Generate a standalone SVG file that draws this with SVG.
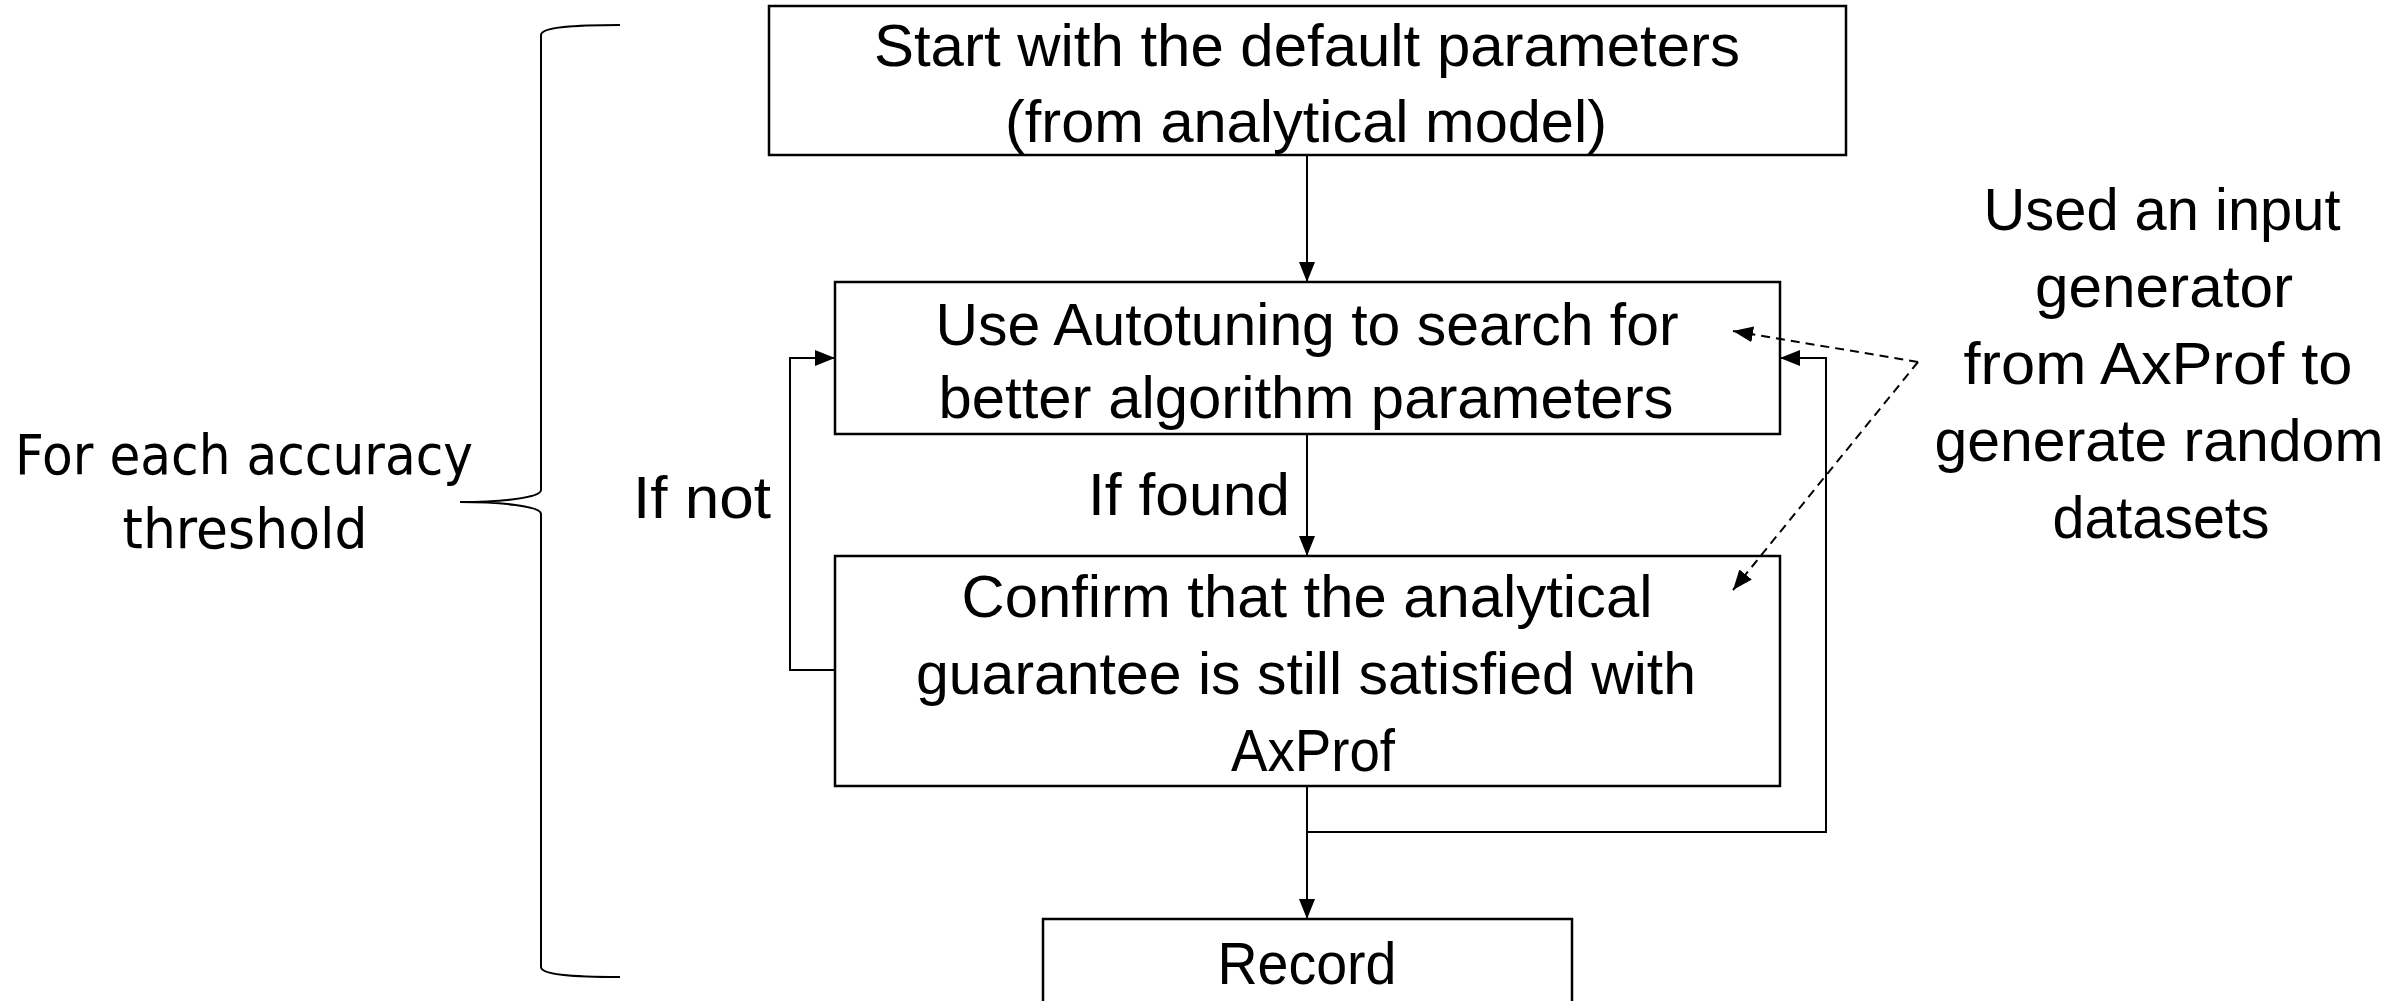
<svg xmlns="http://www.w3.org/2000/svg" width="2402" height="1001" viewBox="0 0 2402 1001">
<style>
.box{fill:#fff;stroke:#000;stroke-width:2.5}
.t{font-family:"Liberation Sans",Arial,sans-serif;font-size:60px;fill:#000;text-anchor:middle}
.lt{font-family:"DejaVu Sans",Verdana,sans-serif;font-size:56px;fill:#000;text-anchor:middle}
.ln{fill:none;stroke:#000;stroke-width:2}
.dash{fill:none;stroke:#000;stroke-width:2;stroke-dasharray:9 6}
</style>
<defs>
<marker id="ahs" viewBox="0 0 10 10" refX="10" refY="5" markerWidth="20" markerHeight="16" markerUnits="userSpaceOnUse" orient="auto" preserveAspectRatio="none">
<path d="M0,0 L10,5 L0,10 z" fill="#000"/>
</marker>
</defs>

<g id="brace">
<path class="ln" d="M620,25 C575,25 541,27 541,35 L541,490 C541,498 500,502 460,502 C500,502 541,506 541,514 L541,967 C541,975 575,977 620,977"/>
</g>

<g id="label-left">
<text class="lt" x="244" y="474" textLength="458" lengthAdjust="spacingAndGlyphs">For each accuracy</text>
<text class="lt" x="245" y="548" textLength="245" lengthAdjust="spacingAndGlyphs">threshold</text>
</g>

<g id="node-start">
<rect class="box" x="769" y="6" width="1077" height="149"/>
<text class="t" x="1307" y="66" textLength="866" lengthAdjust="spacingAndGlyphs">Start with the default parameters</text>
<text class="t" x="1306" y="142" textLength="602" lengthAdjust="spacingAndGlyphs">(from analytical model)</text>
</g>

<g id="node-autotune">
<rect class="box" x="835" y="282" width="945" height="152"/>
<text class="t" x="1307" y="345" textLength="743" lengthAdjust="spacingAndGlyphs">Use Autotuning to search for</text>
<text class="t" x="1306" y="418" textLength="735" lengthAdjust="spacingAndGlyphs">better algorithm parameters</text>
</g>

<g id="node-confirm">
<rect class="box" x="835" y="556" width="945" height="230"/>
<text class="t" x="1307" y="617" textLength="691" lengthAdjust="spacingAndGlyphs">Confirm that the analytical</text>
<text class="t" x="1306" y="694" textLength="780" lengthAdjust="spacingAndGlyphs">guarantee is still satisfied with</text>
<text class="t" x="1313" y="771" textLength="164" lengthAdjust="spacingAndGlyphs">AxProf</text>
</g>

<g id="node-record">
<rect class="box" x="1043" y="919" width="529" height="100"/>
<text class="t" x="1307" y="984" textLength="179" lengthAdjust="spacingAndGlyphs">Record</text>
</g>

<g id="label-iffound">
<text class="t" x="1189" y="515" textLength="202" lengthAdjust="spacingAndGlyphs">If found</text>
</g>
<g id="label-ifnot">
<text class="t" x="702" y="518" textLength="138" lengthAdjust="spacingAndGlyphs">If not</text>
</g>

<g id="label-right">
<text class="t" x="2162" y="230" textLength="357" lengthAdjust="spacingAndGlyphs">Used an input</text>
<text class="t" x="2164" y="307" textLength="258" lengthAdjust="spacingAndGlyphs">generator</text>
<text class="t" x="2158" y="384" textLength="389" lengthAdjust="spacingAndGlyphs">from AxProf to</text>
<text class="t" x="2159" y="461" textLength="449" lengthAdjust="spacingAndGlyphs">generate random</text>
<text class="t" x="2161" y="538" textLength="217" lengthAdjust="spacingAndGlyphs">datasets</text>
</g>

<g id="connectors">
<line class="ln" x1="1307" y1="155" x2="1307" y2="282" marker-end="url(#ahs)"/>
<line class="ln" x1="1307" y1="434" x2="1307" y2="556" marker-end="url(#ahs)"/>
<line class="ln" x1="1307" y1="786" x2="1307" y2="919" marker-end="url(#ahs)"/>
<polyline class="ln" points="1307,832 1826,832 1826,358 1780,358" marker-end="url(#ahs)"/>
<polyline class="ln" points="835,670 790,670 790,358 835,358" marker-end="url(#ahs)"/>
<line class="dash" x1="1918" y1="362" x2="1733" y2="331" marker-end="url(#ahs)"/>
<line class="dash" x1="1918" y1="362" x2="1733" y2="590" marker-end="url(#ahs)"/>
</g>
</svg>
